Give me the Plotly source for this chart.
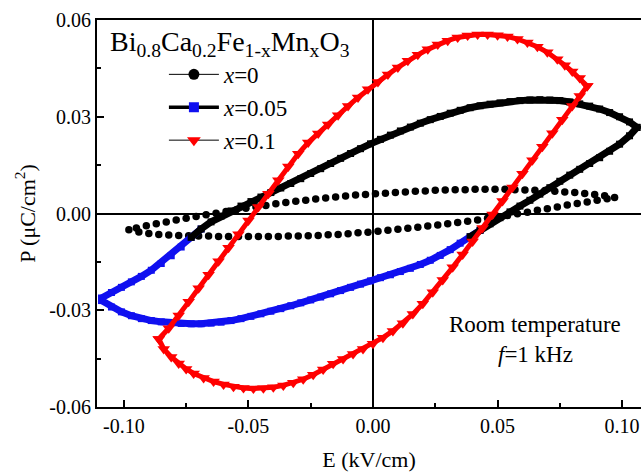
import plotly.graph_objects as go

# ---------------- data ----------------
# x = 0 (black circles): upper branch right->left, lower branch left->right
E0_up = [0.097, 0.093, 0.089, 0.085, 0.081, 0.077, 0.073, 0.069, 0.065, 0.061, 0.057, 0.053, 0.049,
         0.045, 0.041, 0.037, 0.033, 0.029, 0.025, 0.021, 0.017, 0.013, 0.009, 0.005, 0.001, -0.003,
         -0.007, -0.011, -0.015, -0.019, -0.023, -0.027, -0.031, -0.035, -0.039, -0.043, -0.047, -0.051,
         -0.055, -0.059, -0.063, -0.067, -0.071, -0.075, -0.079, -0.083, -0.087, -0.091, -0.095]
P0_up = [0.0050, 0.0055, 0.0059, 0.0062, 0.0065, 0.0067, 0.0069, 0.0071, 0.0072, 0.0073, 0.0074, 0.0075,
         0.0075, 0.0075, 0.0075, 0.0074, 0.0074, 0.0073, 0.0072, 0.0070, 0.0069, 0.0067, 0.0065, 0.0063,
         0.0061, 0.0059, 0.0057, 0.0054, 0.0051, 0.0048, 0.0045, 0.0041, 0.0038, 0.0034, 0.0030, 0.0025,
         0.0021, 0.0016, 0.0011, 0.0006, 0.0001, -0.0004, -0.0009, -0.0015, -0.0020, -0.0026, -0.0032,
         -0.0038, -0.0045]
E0_dn = [-0.098, -0.094, -0.090, -0.086, -0.082, -0.078, -0.074, -0.070, -0.066, -0.062, -0.058, -0.054,
         -0.050, -0.046, -0.042, -0.038, -0.034, -0.030, -0.026, -0.022, -0.018, -0.014, -0.010, -0.006,
         -0.002, 0.002, 0.006, 0.010, 0.014, 0.018, 0.022, 0.026, 0.030, 0.034, 0.038, 0.042, 0.046, 0.050,
         0.054, 0.058, 0.062, 0.066, 0.070, 0.074, 0.078, 0.082, 0.086, 0.090, 0.094]
P0_dn = [-0.0050, -0.0057, -0.0062, -0.0065, -0.0067, -0.0068, -0.0069, -0.0070, -0.0070, -0.0071, -0.0071,
         -0.0071, -0.0071, -0.0071, -0.0071, -0.0071, -0.0070, -0.0070, -0.0069, -0.0068, -0.0066, -0.0065,
         -0.0063, -0.0060, -0.0058, -0.0055, -0.0052, -0.0049, -0.0046, -0.0043, -0.0039, -0.0036, -0.0032,
         -0.0028, -0.0024, -0.0020, -0.0015, -0.0011, -0.0006, -0.0001, 0.0004, 0.0010, 0.0015, 0.0020,
         0.0026, 0.0031, 0.0036, 0.0041, 0.0046]

# x = 0.05 (squares): upper branch right->left, lower branch left->right
E05_up = [0.106, 0.103, 0.099, 0.095, 0.091, 0.087, 0.083, 0.079, 0.075, 0.071, 0.067, 0.063, 0.059, 0.055,
          0.051, 0.047, 0.043, 0.039, 0.035, 0.031, 0.027, 0.023, 0.019, 0.015, 0.011, 0.007, 0.003, -0.001,
          -0.005, -0.009, -0.013, -0.017, -0.021, -0.025, -0.029, -0.033, -0.037, -0.041, -0.045, -0.049,
          -0.053, -0.057, -0.061, -0.065, -0.069, -0.073, -0.077, -0.081, -0.085, -0.089, -0.093, -0.097,
          -0.101, -0.105, -0.109]
P05_up = [0.0267, 0.0284, 0.0300, 0.0313, 0.0324, 0.0333, 0.0340, 0.0346, 0.0350, 0.0352, 0.0353, 0.0352,
          0.0350, 0.0347, 0.0343, 0.0339, 0.0334, 0.0328, 0.0320, 0.0311, 0.0301, 0.0291, 0.0280, 0.0268,
          0.0256, 0.0243, 0.0230, 0.0216, 0.0201, 0.0186, 0.0171, 0.0155, 0.0139, 0.0124, 0.0108, 0.0093,
          0.0079, 0.0065, 0.0051, 0.0037, 0.0023, 0.0008, -0.0008, -0.0026, -0.0048, -0.0074, -0.0104,
          -0.0131, -0.0155, -0.0176, -0.0195, -0.0212, -0.0229, -0.0245, -0.0262]
E05_dn = [-0.109, -0.105, -0.101, -0.097, -0.093, -0.089, -0.085, -0.081, -0.077, -0.073, -0.069, -0.065,
          -0.061, -0.057, -0.053, -0.049, -0.045, -0.041, -0.037, -0.033, -0.029, -0.025, -0.021, -0.017,
          -0.013, -0.009, -0.005, -0.001, 0.003, 0.007, 0.011, 0.015, 0.019, 0.023, 0.027, 0.031, 0.035,
          0.039, 0.043, 0.047, 0.051, 0.055, 0.059, 0.063, 0.067, 0.071, 0.075, 0.079, 0.083, 0.087, 0.091,
          0.095, 0.099, 0.103, 0.106]
P05_dn = [-0.0270, -0.0290, -0.0305, -0.0317, -0.0326, -0.0332, -0.0336, -0.0339, -0.0341, -0.0342, -0.0342,
          -0.0340, -0.0337, -0.0332, -0.0326, -0.0319, -0.0311, -0.0303, -0.0295, -0.0286, -0.0277, -0.0268,
          -0.0259, -0.0249, -0.0239, -0.0229, -0.0219, -0.0209, -0.0199, -0.0190, -0.0180, -0.0170, -0.0158,
          -0.0145, -0.0130, -0.0112, -0.0092, -0.0072, -0.0052, -0.0032, -0.0013, 0.0005, 0.0023, 0.0041,
          0.0060, 0.0080, 0.0100, 0.0119, 0.0137, 0.0155, 0.0173, 0.0193, 0.0215, 0.0241, 0.0267]

# x = 0.1 (red triangles): upper branch right->left, lower branch left->right
E10_up = [0.086, 0.083, 0.080, 0.077, 0.074, 0.070, 0.066, 0.062, 0.058, 0.054, 0.050, 0.046, 0.042, 0.038,
          0.034, 0.030, 0.026, 0.022, 0.018, 0.014, 0.010, 0.006, 0.002, -0.002, -0.006, -0.010, -0.014,
          -0.018, -0.022, -0.026, -0.030, -0.034, -0.038, -0.042, -0.046, -0.050, -0.054, -0.058, -0.062,
          -0.066, -0.070, -0.074, -0.078, -0.082, -0.086]
P10_up = [0.0395, 0.0420, 0.0440, 0.0460, 0.0478, 0.0500, 0.0517, 0.0530, 0.0541, 0.0549, 0.0553, 0.0555,
          0.0555, 0.0552, 0.0546, 0.0536, 0.0524, 0.0509, 0.0492, 0.0474, 0.0453, 0.0431, 0.0408, 0.0385,
          0.0360, 0.0333, 0.0305, 0.0276, 0.0248, 0.0220, 0.0185, 0.0146, 0.0103, 0.0061, 0.0020, -0.0022,
          -0.0064, -0.0106, -0.0148, -0.0190, -0.0232, -0.0274, -0.0316, -0.0356, -0.0389]
E10_dn = [-0.086, -0.084, -0.081, -0.078, -0.075, -0.072, -0.068, -0.064, -0.060, -0.056, -0.052, -0.048,
          -0.044, -0.040, -0.036, -0.032, -0.028, -0.024, -0.020, -0.016, -0.012, -0.008, -0.004, 0.000,
          0.004, 0.008, 0.012, 0.016, 0.020, 0.024, 0.028, 0.032, 0.036, 0.040, 0.044, 0.048, 0.052, 0.056,
          0.060, 0.064, 0.068, 0.072, 0.076, 0.080, 0.083, 0.086]
P10_dn = [-0.0389, -0.0420, -0.0445, -0.0465, -0.0482, -0.0496, -0.0510, -0.0521, -0.0530, -0.0537, -0.0541,
          -0.0543, -0.0542, -0.0539, -0.0533, -0.0525, -0.0514, -0.0500, -0.0484, -0.0466, -0.0451, -0.0436,
          -0.0420, -0.0404, -0.0385, -0.0364, -0.0340, -0.0312, -0.0280, -0.0244, -0.0206, -0.0167, -0.0127,
          -0.0087, -0.0045, -0.0003, 0.0039, 0.0081, 0.0123, 0.0165, 0.0207, 0.0249, 0.0291, 0.0333, 0.0364,
          0.0395]

series_names = ["<i>x</i>=0", "<i>x</i>=0.05", "<i>x</i>=0.1"]
x_tickvals = [-0.10, -0.05, 0.00, 0.05, 0.10]
x_ticktext = ["-0.10", "-0.05", "0.00", "0.05", "0.10"]
y_tickvals = [-0.06, -0.03, 0.00, 0.03, 0.06]
y_ticktext = ["-0.06", "-0.03", "0.00", "0.03", "0.06"]

# ---------------- figure ----------------
FONT = "Liberation Serif, Times New Roman, serif"
fig = go.Figure()

# x = 0 loop
fig.add_trace(go.Scatter(
    x=E0_up + E0_dn, y=P0_up + P0_dn, mode="markers",
    marker=dict(symbol="circle", size=7.5, color="black"),
    showlegend=False, legendgroup="g0"))

# x = 0.05 loop: blue part (left tip region and lower branch) and black part
blue_pts = [(e, p) for e, p in zip(E05_up, P05_up) if e <= -0.069] + \
           [(e, p) for e, p in zip(E05_dn, P05_dn) if e <= 0.043]
black_pts = [(e, p) for e, p in zip(E05_dn, P05_dn) if e >= 0.039] + \
            [(e, p) for e, p in zip(E05_up, P05_up) if e >= -0.073]
fig.add_trace(go.Scatter(
    x=[q[0] for q in blue_pts], y=[q[1] for q in blue_pts], mode="lines+markers",
    line=dict(color="#1010f0", width=7),
    marker=dict(symbol="square", size=7, color="#1010f0"),
    showlegend=False, legendgroup="g1"))
fig.add_trace(go.Scatter(
    x=[q[0] for q in black_pts], y=[q[1] for q in black_pts], mode="lines+markers",
    line=dict(color="black", width=7),
    marker=dict(symbol="square", size=7, color="black"),
    showlegend=False, legendgroup="g1"))

# x = 0.1 loop
fig.add_trace(go.Scatter(
    x=E10_up + E10_dn, y=P10_up + P10_dn, mode="lines+markers",
    line=dict(color="#ff0000", width=5),
    marker=dict(symbol="triangle-down", size=11, color="#ff0000"),
    showlegend=False, legendgroup="g2"))

# legend entries
fig.add_trace(go.Scatter(x=[None], y=[None], mode="lines+markers", name=series_names[0],
                         line=dict(color="black", width=1),
                         marker=dict(symbol="circle", size=11, color="black"), legendgroup="g0"))
fig.add_trace(go.Scatter(x=[None], y=[None], mode="lines+markers", name=series_names[1],
                         line=dict(color="black", width=3.5),
                         marker=dict(symbol="square", size=10, color="#1010f0"), legendgroup="g1"))
fig.add_trace(go.Scatter(x=[None], y=[None], mode="lines+markers", name=series_names[2],
                         line=dict(color="black", width=1),
                         marker=dict(symbol="triangle-down", size=12, color="#ff0000"), legendgroup="g2"))

axis_common = dict(
    showgrid=False, showline=True, linecolor="black", linewidth=2,
    ticks="inside", ticklen=7, tickwidth=2, tickcolor="black",
    zeroline=True, zerolinecolor="black", zerolinewidth=2,
    tickfont=dict(family=FONT, size=20, color="black"),
    automargin=False,
)

fig.update_xaxes(
    range=[-0.1108, 0.1076], tickmode="array", tickvals=x_tickvals, ticktext=x_ticktext,
    mirror=True,
    minor=dict(tickmode="linear", tick0=0, dtick=0.025, ticks="inside", ticklen=4,
               tickwidth=2, tickcolor="black", showgrid=False),
    title=dict(text="E (kV/cm)", font=dict(family=FONT, size=22, color="black"), standoff=18),
    **axis_common)
fig.update_yaxes(
    range=[-0.06, 0.06], tickmode="array", tickvals=y_tickvals, ticktext=y_ticktext,
    mirror=False,
    minor=dict(tickmode="linear", tick0=0, dtick=0.015, ticks="inside", ticklen=4,
               tickwidth=2, tickcolor="black", showgrid=False),
    title=dict(text="P (μC/cm<sup>2</sup>)", font=dict(family=FONT, size=22, color="black"), standoff=8),
    **axis_common)

fig.update_layout(
    width=641, height=472,
    margin=dict(l=97, r=0, t=20, b=65),
    paper_bgcolor="white", plot_bgcolor="white",
    font=dict(family=FONT, color="black"),
    legend=dict(x=0.123, y=0.915, xanchor="left", yanchor="top",
                bgcolor="rgba(0,0,0,0)", font=dict(family=FONT, size=23, color="black"),
                itemwidth=50, tracegroupgap=0),
    annotations=[
        dict(text="Bi<sub>0.8</sub>Ca<sub>0.2</sub>Fe<sub>1-x</sub>Mn<sub>x</sub>O<sub>3</sub>",
             xref="paper", yref="paper", x=0.02, y=0.94, xanchor="left", yanchor="middle",
             showarrow=False, font=dict(family=FONT, size=28, color="black")),
        dict(text="Room temperature", xref="paper", yref="paper", x=0.806, y=0.212,
             xanchor="center", yanchor="middle", showarrow=False,
             font=dict(family=FONT, size=23, color="black")),
        dict(text="<i>f</i>=1 kHz", xref="paper", yref="paper", x=0.806, y=0.135,
             xanchor="center", yanchor="middle", showarrow=False,
             font=dict(family=FONT, size=23, color="black")),
    ],
)

fig.write_html("out.html", config={"displayModeBar": False},
               post_script="document.body.style.margin='0';")
